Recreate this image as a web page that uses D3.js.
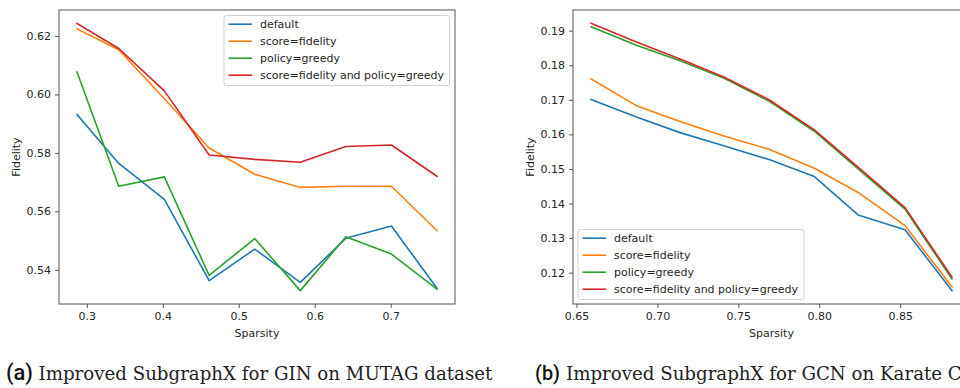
<!DOCTYPE html>
<html><head><meta charset="utf-8">
<script src="https://cdn.jsdelivr.net/npm/d3@7"></script>
<style>
body{margin:0;background:#fff;}
svg{display:block;}
.tick text{font-family:"DejaVu Sans",sans-serif;font-size:11px;fill:#262626;}
</style></head>
<body>
<svg id="chart" width="960" height="388"></svg>
<script>
// ---- data ----
const seriesNames = ["default","score=fidelity","policy=greedy","score=fidelity and policy=greedy"];
const colors = ["#1f77b4","#ff7f0e","#2ca02c","#d62728"];

const sparsityA = [0.287,0.342,0.402,0.461,0.521,0.581,0.641,0.701,0.761];
const defaultA  = [0.5931,0.5764,0.5641,0.5363,0.5471,0.5357,0.5508,0.5550,0.5337];
const fidelityA = [0.6224,0.6153,0.5985,0.5817,0.5727,0.5682,0.5686,0.5686,0.5534];
const greedyA   = [0.6077,0.5686,0.5718,0.5381,0.5507,0.5329,0.5513,0.5454,0.5334];
const bothA     = [0.6243,0.6157,0.6012,0.5793,0.5778,0.5768,0.5822,0.5827,0.5720];
const yTicksA = [0.54,0.56,0.58,0.60,0.62];
const xTicksA = [0.3,0.4,0.5,0.6,0.7];

const sparsityB = [0.659,0.687,0.714,0.741,0.769,0.797,0.824,0.853,0.882];
const defaultB  = [0.1701,0.1650,0.1605,0.1567,0.1527,0.1478,0.1367,0.1324,0.1148];
const fidelityB = [0.1760,0.1683,0.1637,0.1595,0.1557,0.1502,0.1432,0.1336,0.1159];
const greedyB   = [0.1911,0.1858,0.1813,0.1763,0.1696,0.1609,0.1500,0.1384,0.1182];
const bothB     = [0.1921,0.1867,0.1818,0.1766,0.1700,0.1613,0.1505,0.1388,0.1187];
const yTicksB = [0.12,0.13,0.14,0.15,0.16,0.17,0.18,0.19];
const xTicksB = [0.65,0.70,0.75,0.80,0.85];

const captionA = ["(a)","Improved SubgraphX for GIN on MUTAG dataset"];
const captionB = ["(b)","Improved SubgraphX for GCN on Karate Club dataset"];

const svg = d3.select("#chart");

function padded(vals){
  const mn = d3.min(vals), mx = d3.max(vals), p = (mx-mn)*0.05;
  return [mn-p, mx+p];
}

function panel(cfg){
  const {box, xs, ys, xTicks, yTicks, xFmt, yFmt, legend} = cfg;
  const g = svg.append("g");
  const x = d3.scaleLinear().domain(padded(xs)).range([box.l, box.r]);
  const allY = ys.flat();
  const y = d3.scaleLinear().domain(padded(allY)).range([box.b, box.t]);

  const clipId = "clip"+Math.round(box.l);
  svg.append("clipPath").attr("id",clipId).append("rect")
    .attr("x",box.l).attr("y",box.t).attr("width",box.r-box.l).attr("height",box.b-box.t);

  const line = d3.line().x(d=>x(d[0])).y(d=>y(d[1]));
  ys.forEach((s,i)=>{
    g.append("path").datum(xs.map((v,j)=>[v,s[j]]))
      .attr("d",line).attr("fill","none").attr("stroke",colors[i])
      .attr("stroke-width",1.6).attr("stroke-linejoin","round").attr("stroke-linecap","square")
      .attr("clip-path",`url(#${clipId})`);
  });

  // spines
  g.append("rect").attr("x",box.l).attr("y",box.t).attr("width",box.r-box.l).attr("height",box.b-box.t)
    .attr("fill","none").attr("stroke","#555").attr("stroke-width",1);

  const ax = g.append("g").attr("transform",`translate(0,${box.b})`)
    .call(d3.axisBottom(x).tickValues(xTicks).tickFormat(xFmt).tickSize(4).tickPadding(4));
  const ay = g.append("g").attr("transform",`translate(${box.l},0)`)
    .call(d3.axisLeft(y).tickValues(yTicks).tickFormat(yFmt).tickSize(4).tickPadding(4));
  [ax,ay].forEach(a=>{a.select(".domain").remove(); a.selectAll(".tick line").attr("stroke","#555");});

  g.append("text").attr("x",(box.l+Math.min(box.r,box.rVisible||box.r*10))/2)
    .attr("x",(box.l+box.r)/2).attr("y",337).attr("text-anchor","middle")
    .style("font-family","DejaVu Sans").style("font-size","11px").attr("fill","#262626").text("Sparsity");
  g.append("text").attr("transform",`translate(${box.yl},${(box.t+box.b)/2}) rotate(-90)`)
    .attr("text-anchor","middle")
    .style("font-family","DejaVu Sans").style("font-size","11px").attr("fill","#262626").text("Fidelity");

  // legend
  const lg = g.append("g");
  lg.append("rect").attr("x",legend.x).attr("y",legend.y).attr("width",legend.w).attr("height",legend.h)
    .attr("rx",2.5).attr("fill","#fff").attr("fill-opacity",0.8).attr("stroke","#d0d0d0").attr("stroke-width",1);
  seriesNames.forEach((n,i)=>{
    const cy = legend.y + 8.7 + i*17;
    lg.append("line").attr("x1",legend.x+4.5).attr("x2",legend.x+28).attr("y1",cy).attr("y2",cy)
      .attr("stroke",colors[i]).attr("stroke-width",1.6);
    lg.append("text").attr("x",legend.x+36).attr("y",cy+4)
      .style("font-family","DejaVu Sans").style("font-size","11px").attr("fill","#262626").text(n);
  });
}

panel({
  box:{l:59,r:455,t:10,b:304,yl:20},
  xs:sparsityA, ys:[defaultA,fidelityA,greedyA,bothA],
  xTicks:xTicksA, yTicks:yTicksA, xFmt:d3.format(".1f"), yFmt:d3.format(".2f"),
  legend:{x:224,y:15.5,w:225.5,h:70}
});
panel({
  box:{l:573,r:970,t:10,b:304,yl:534},
  xs:sparsityB, ys:[defaultB,fidelityB,greedyB,bothB],
  xTicks:xTicksB, yTicks:yTicksB, xFmt:d3.format(".2f"), yFmt:d3.format(".2f"),
  legend:{x:578,y:229.5,w:226,h:70}
});

// captions
function caption(c, xStart, labelW, textX, textW){
  const t = svg.append("g");
  const lab = t.append("text").attr("x",xStart).attr("y",380)
    .style("font-family","Roboto, 'Open Sans', sans-serif").style("font-weight","500")
    .style("font-size","19px").attr("fill","#111").text(c[0]);
  const lw = lab.node().getComputedTextLength();
  lab.style("font-size",(19*labelW/lw).toFixed(2)+"px");
  const txt = t.append("text").attr("x",textX).attr("y",380)
    .style("font-family","'DejaVu Serif', serif").style("font-size","17px").attr("fill","#222").text(c[1]);
  if(textW){
    const w = txt.node().getComputedTextLength();
    txt.style("font-size",(17*textW/w).toFixed(2)+"px");
  }
  return txt;
}
const capA = caption(captionA, 6, 27, 38.5, 454);
const fsA = capA.style("font-size");
const capB = caption(captionB, 535, 25, 566, null);
capB.style("font-size", fsA);
</script>
</body></html>
